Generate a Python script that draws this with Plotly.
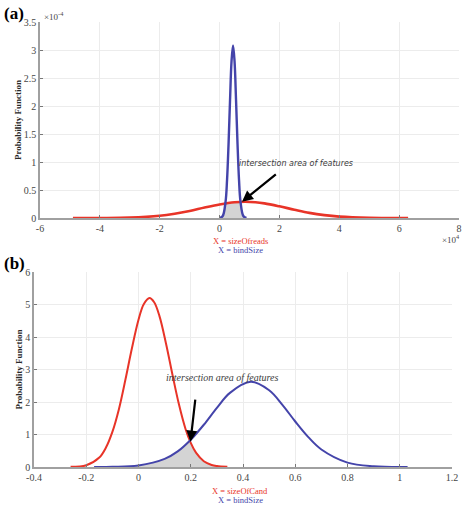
import plotly.graph_objects as go

# ---------------- Panel (a) data (x in 1e4 units, y in 1e-4 units) ----------------
a_red_x = [-4.9, -4, -3, -2, -1.5, -1, -0.5, 0, 0.5, 0.85, 1.2, 1.5, 2, 2.5, 3, 3.5, 4, 5, 6.3]
a_red_y = [0.0001, 0.0008, 0.007, 0.039, 0.075, 0.125, 0.186, 0.242, 0.282, 0.29, 0.282,
           0.261, 0.208, 0.148, 0.092, 0.051, 0.025, 0.004, 0.0002]
a_blue_x = [0.0, 0.1, 0.2, 0.25, 0.3, 0.35, 0.4, 0.45, 0.5, 0.55, 0.6, 0.65, 0.7, 0.8, 0.9]
a_blue_y = [0.0015, 0.03, 0.29, 0.68, 1.32, 2.11, 2.80, 3.08, 2.80, 2.11, 1.32, 0.68, 0.29, 0.03, 0.0015]
a_ovl_x = [0, 0.05, 0.1, 0.15, 0.19, 0.3, 0.4, 0.5, 0.6, 0.7, 0.72, 0.75, 0.8, 0.85, 0.9]
a_ovl_y = [0.002, 0.01, 0.03, 0.10, 0.25, 0.265, 0.276, 0.282, 0.286, 0.28, 0.19, 0.10, 0.03, 0.008, 0.0015]
a_xticks = [-6, -4, -2, 0, 2, 4, 6, 8]
a_yticks = [0, 0.5, 1, 1.5, 2, 2.5, 3, 3.5]
a_yticklabels = ["0", "0.5", "1", "1.5", "2", "2.5", "3", "3.5"]
a_labels = ["X = sizeOfreads", "X = bindSize"]

# ---------------- Panel (b) data ----------------
b_red_x = [-0.26, -0.2, -0.15, -0.125, -0.1, -0.075, -0.05, -0.025, 0, 0.02, 0.042, 0.06, 0.08,
           0.105, 0.13, 0.155, 0.18, 0.2, 0.22, 0.25, 0.28, 0.3, 0.34]
b_red_y = [0.004, 0.053, 0.29, 0.59, 1.08, 1.78, 2.69, 3.66, 4.53, 5.01, 5.2, 5.07, 4.65,
           3.81, 2.84, 1.92, 1.17, 0.74, 0.44, 0.177, 0.062, 0.029, 0.005]
b_blue_x = [-0.17, -0.1, 0, 0.1, 0.15, 0.2, 0.25, 0.3, 0.35, 0.43, 0.5, 0.55, 0.6, 0.65, 0.7, 0.8, 0.9, 1.03]
b_blue_y = [0.001, 0.006, 0.048, 0.25, 0.48, 0.84, 1.30, 1.82, 2.28, 2.62, 2.36, 1.92, 1.40, 0.92, 0.54, 0.136, 0.022, 0.001]
b_ovl_x = [-0.17, -0.1, -0.05, 0, 0.05, 0.1, 0.15, 0.196, 0.22, 0.25, 0.28, 0.3, 0.34]
b_ovl_y = [0.001, 0.006, 0.018, 0.048, 0.115, 0.25, 0.48, 0.79, 0.44, 0.177, 0.062, 0.029, 0.005]
b_xticks = [-0.4, -0.2, 0, 0.2, 0.4, 0.6, 0.8, 1, 1.2]
b_xticklabels = ["-0.4", "-0.2", "0", "0.2", "0.4", "0.6", "0.8", "1", "1.2"]
b_yticks = [0, 1, 2, 3, 4, 5, 6]
b_labels = ["X = sizeOfCand", "X = bindSize"]

RED = "rgb(232,52,40)"
BLUE = "rgb(68,68,170)"
GRAY = "rgb(212,212,212)"
SERIF = "Liberation Serif"
W, H = 467, 505

fig = go.Figure()
# panel a
fig.add_trace(go.Scatter(x=a_ovl_x, y=a_ovl_y, fill="tozeroy", mode="none", fillcolor=GRAY,
                         xaxis="x", yaxis="y", showlegend=False, hoverinfo="skip"))
fig.add_trace(go.Scatter(x=a_red_x, y=a_red_y, mode="lines", line=dict(color=RED, width=2.6, shape="spline"),
                         xaxis="x", yaxis="y", showlegend=False))
fig.add_trace(go.Scatter(x=a_blue_x, y=a_blue_y, mode="lines", line=dict(color=BLUE, width=2.4, shape="spline"),
                         xaxis="x", yaxis="y", showlegend=False))
# panel b
fig.add_trace(go.Scatter(x=b_ovl_x, y=b_ovl_y, fill="tozeroy", mode="none", fillcolor=GRAY,
                         xaxis="x2", yaxis="y2", showlegend=False, hoverinfo="skip"))
fig.add_trace(go.Scatter(x=b_red_x, y=b_red_y, mode="lines", line=dict(color=RED, width=2, shape="spline"),
                         xaxis="x2", yaxis="y2", showlegend=False))
fig.add_trace(go.Scatter(x=b_blue_x, y=b_blue_y, mode="lines", line=dict(color=BLUE, width=2, shape="spline"),
                         xaxis="x2", yaxis="y2", showlegend=False))

axis_common = dict(showgrid=True, gridcolor="rgb(236,236,236)", gridwidth=1, zeroline=False,
                   showline=True, linecolor="rgb(160,160,160)", linewidth=1.5,
                   ticks="inside", ticklen=3, tickcolor="rgb(120,120,120)", automargin=False,
                   tickfont=dict(family=SERIF, size=10, color="rgb(70,70,70)"))

ytitle = dict(text="<b>Probability Function</b>", font=dict(family=SERIF, size=9, color="rgb(40,40,40)"), standoff=1)

fig.update_layout(
    width=W, height=H, margin=dict(l=0, r=0, t=0, b=0),
    paper_bgcolor="white", plot_bgcolor="white",
    xaxis=dict(domain=[40 / W, 459 / W], range=[-6, 8], tickvals=a_xticks,
               ticktext=[str(v) for v in a_xticks], anchor="y", **axis_common),
    yaxis=dict(domain=[1 - 218 / H, 1 - 22 / H], range=[0, 3.5], tickvals=a_yticks,
               ticktext=a_yticklabels, anchor="x", title=ytitle, **axis_common),
    xaxis2=dict(domain=[34 / W, 452 / W], range=[-0.4, 1.2], tickvals=b_xticks,
                ticktext=b_xticklabels, anchor="y2", **axis_common),
    yaxis2=dict(domain=[1 - 467 / H, 1 - 272 / H], range=[0, 6], tickvals=b_yticks,
                ticktext=[str(v) for v in b_yticks], anchor="x2", title=ytitle, **axis_common),
)

ann = []
# panel labels
ann.append(dict(text="<b>(a)</b>", x=2 / W, y=1 - 13 / H, xref="paper", yref="paper", xanchor="left",
                yanchor="middle", showarrow=False, font=dict(family=SERIF, size=17, color="black")))
ann.append(dict(text="<b>(b)</b>", x=2 / W, y=1 - 263 / H, xref="paper", yref="paper", xanchor="left",
                yanchor="middle", showarrow=False, font=dict(family=SERIF, size=17, color="black")))
# exponents
ann.append(dict(text="×10<sup>-4</sup>", x=42 / W, y=1 - 16 / H, xref="paper", yref="paper", xanchor="left",
                yanchor="middle", showarrow=False, font=dict(family=SERIF, size=9, color="rgb(70,70,70)")))
ann.append(dict(text="×10<sup>4</sup>", x=462 / W, y=1 - 239 / H, xref="paper", yref="paper", xanchor="right",
                yanchor="middle", showarrow=False, font=dict(family=SERIF, size=9, color="rgb(70,70,70)")))
# arrows
ann.append(dict(x=0.75, y=0.29, ax=1.93, ay=0.80, xref="x", yref="y", axref="x", ayref="y",
                showarrow=True, arrowhead=2, arrowsize=1, arrowwidth=2.2, arrowcolor="black", text=""))
ann.append(dict(text="<i>intersection area of features</i>", x=2.55, y=0.98, xref="x", yref="y",
                xanchor="center", yanchor="middle",
                showarrow=False, font=dict(family="DejaVu Sans", size=8, color="rgb(60,60,60)")))
ann.append(dict(x=0.199, y=0.78, ax=0.218, ay=2.12, xref="x2", yref="y2", axref="x2", ayref="y2",
                showarrow=True, arrowhead=2, arrowsize=1, arrowwidth=2.2, arrowcolor="black", text=""))
ann.append(dict(text="<i>intersection area of features</i>", x=0.32, y=2.74, xref="x2", yref="y2",
                xanchor="center", yanchor="middle",
                showarrow=False, font=dict(family=SERIF, size=10, color="rgb(60,60,60)")))
# legend texts
for i, (lab, col) in enumerate(zip(a_labels, [RED, BLUE])):
    ann.append(dict(text=lab, x=240 / W, y=1 - (240.5 + 9 * i) / H, xref="paper", yref="paper",
                    xanchor="center", yanchor="middle",
                    showarrow=False, font=dict(family=SERIF, size=8.5, color=col)))
for i, (lab, col) in enumerate(zip(b_labels, [RED, BLUE])):
    ann.append(dict(text=lab, x=240 / W, y=1 - (490.5 + 9 * i) / H, xref="paper", yref="paper",
                    xanchor="center", yanchor="middle",
                    showarrow=False, font=dict(family=SERIF, size=8.5, color=col)))
fig.update_layout(annotations=ann)

fig.write_html("out.html")
